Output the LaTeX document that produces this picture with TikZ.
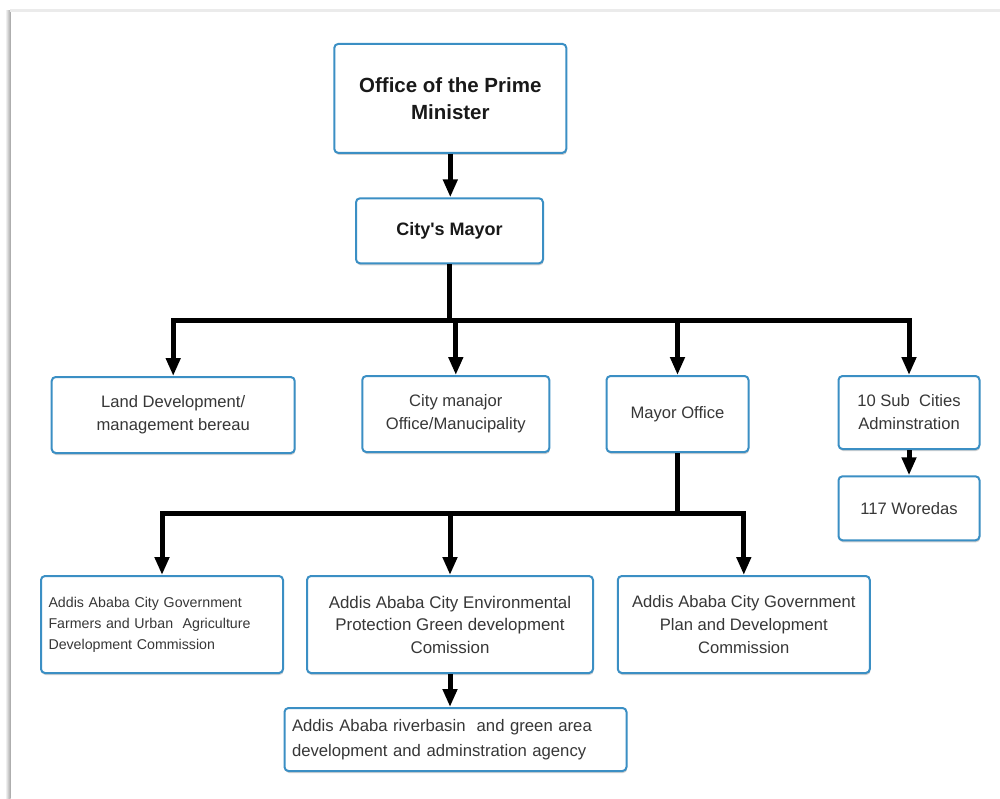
\documentclass[tikz,border=0pt]{standalone}
\usepackage{fontspec}
\setmainfont{Liberation Sans}[Ligatures=TeXOff]
\usetikzlibrary{arrows.meta,shadows}
\definecolor{boxblue}{RGB}{59,143,196}
\definecolor{txtgray}{RGB}{55,55,55}
\tikzset{
  box/.style={draw=boxblue, line width=2pt, rounded corners=4pt, fill=white,
    text=txtgray, align=center, inner sep=0pt,
    drop shadow={shadow xshift=0.6pt, shadow yshift=-2pt, opacity=0.18, fill=black}},
  reg/.style={font=\fontsize{16.6}{23}\selectfont},
  small/.style={font=\fontsize{14.2}{21}\selectfont},
  conn/.style={line width=5pt, draw=black, line join=miter,
    -{Triangle[length=18pt,width=14pt]}}
}
\begin{document}
\begin{tikzpicture}[x=1pt,y=-1pt]
\useasboundingbox (0,0) rectangle (1000,799);
% page frame
\shade[left color=white, right color=black!35] (5,11) rectangle (10.5,799);
\fill[black!8] (10,9.5) rectangle (1000,12);
% nodes
\node[box, text=black!90, minimum width=232pt, minimum height=109pt,
  font=\bfseries\fontsize{20.5}{27}\selectfont] (pm) at (450.3,98.4) {Office of the Prime\\Minister};
\node[box, text=black!90, minimum width=187pt, minimum height=65pt,
  font=\bfseries\fontsize{18}{22}\selectfont] (mayor) at (449.5,230.8) {City's Mayor};
\node[box, reg, minimum width=243pt, minimum height=76pt] (land) at (173.2,415) {Land Development/\\management bereau};
\node[box, reg, minimum width=187pt, minimum height=76pt] (city) at (455.8,414) {City manajor\\Office/Manucipality};
\node[box, reg, minimum width=142pt, minimum height=76pt] (moff) at (677.5,414) {\raisebox{3pt}{Mayor Office}};
\node[box, reg, minimum width=141pt, minimum height=73pt] (sub) at (909,412.5) {10 Sub\ \ Cities\\Adminstration};
\node[box, reg, minimum width=141pt, minimum height=64pt] (wor) at (909,508.3) {117 Woredas};
\node[box, small, minimum width=242pt, minimum height=97pt, text width=227pt, align=left, inner xsep=7.5pt]
  (farm) at (162,624.5) {Addis Ababa City Government\\Farmers and Urban\ \ Agriculture\\Development Commission};
\node[box, font=\fontsize{16.9}{22.5}\selectfont, minimum width=286pt, minimum height=97pt] (env) at (450,624.5)
  {Addis Ababa City Environmental\\Protection Green development\\Comission};
\node[box, reg, minimum width=252pt, minimum height=97pt] (plan) at (743.8,624.5)
  {Addis Ababa City Government\\Plan and Development\\Commission};
\node[box, font=\fontsize{16.7}{25.5}\selectfont, minimum width=342pt, minimum height=63pt, text width=327pt, align=left, inner xsep=7.5pt]
  (river) at (455.5,739.5) {Addis Ababa riverbasin\ \ and green area\\development and adminstration agency};
% bars
\coordinate (b1) at (450,320);
\coordinate (b2) at (677.5,513);
% connectors
\draw[conn] (pm.south) -- (pm.south |- mayor.north);
\draw[conn] (mayor.south) |- (land.north |- b1) -- (land.north);
\draw[conn] (mayor.south) |- (sub.north |- b1) -- (sub.north);
\draw[conn] (city.north |- b1) -- (city.north);
\draw[conn] (moff.north |- b1) -- (moff.north);
\draw[conn] (sub.south) -- (wor.north);
\draw[conn] (moff.south) |- (farm.north |- b2) -- (farm.north);
\draw[conn] (moff.south) |- (plan.north |- b2) -- (plan.north);
\draw[conn] (env.north |- b2) -- (env.north);
\draw[conn] (env.south) -- (env.south |- river.north);
\end{tikzpicture}
\end{document}
